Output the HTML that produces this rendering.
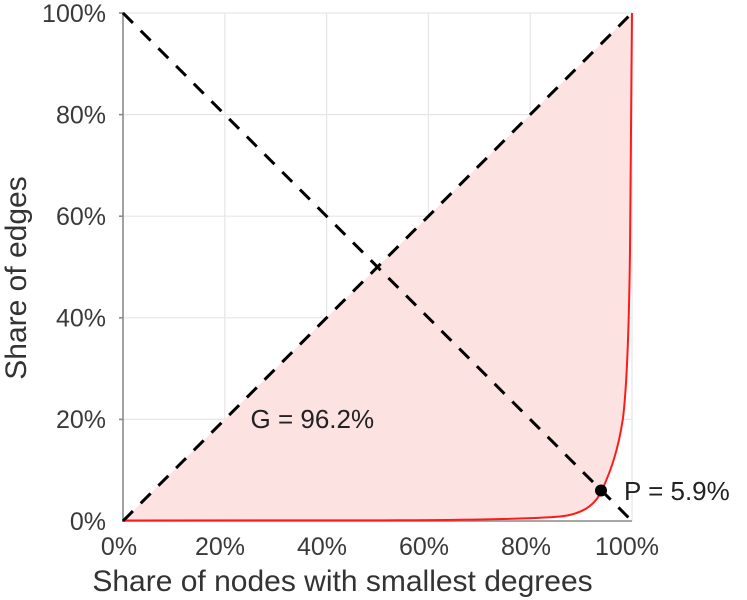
<!DOCTYPE html>
<html><head><meta charset="utf-8"><style>
html,body{margin:0;padding:0;background:#fff;}
svg{display:block;}
text{font-family:"Liberation Sans",Arial,sans-serif;}
</style></head><body>
<svg width="747" height="600" viewBox="0 0 747 600" xmlns="http://www.w3.org/2000/svg">
<g stroke="#e6e6e6" stroke-width="1.2">
<line x1="224.8" y1="13" x2="224.8" y2="521"/>
<line x1="326.6" y1="13" x2="326.6" y2="521"/>
<line x1="428.4" y1="13" x2="428.4" y2="521"/>
<line x1="530.2" y1="13" x2="530.2" y2="521"/>
<line x1="632" y1="13" x2="632" y2="521"/>
<line x1="123" y1="13" x2="632" y2="13"/>
<line x1="123" y1="114.6" x2="632" y2="114.6"/>
<line x1="123" y1="216.2" x2="632" y2="216.2"/>
<line x1="123" y1="317.8" x2="632" y2="317.8"/>
<line x1="123" y1="419.4" x2="632" y2="419.4"/>
</g>
<path d="M123,521 L400,520.5 C470,520 530,519 560,516.5 C585,514 597,503 603,488 C610,472 618,452 623,418 C627,385 629,330 630,250 L632,13 L123,521 Z" fill="#fde2e2" stroke="none"/>
<g stroke="#8a8a8a" stroke-width="1.6">
<line x1="123" y1="12" x2="123" y2="522"/>
<line x1="122" y1="521" x2="632" y2="521"/>
<line x1="119" y1="13" x2="123" y2="13"/>
<line x1="119" y1="114.6" x2="123" y2="114.6"/>
<line x1="119" y1="216.2" x2="123" y2="216.2"/>
<line x1="119" y1="317.8" x2="123" y2="317.8"/>
<line x1="119" y1="419.4" x2="123" y2="419.4"/>
</g>
<path d="M123,520.5 L400,520.3 C470,520 530,519 560,516.5 C585,514 597,503 603,488 C610,472 618,452 623,418 C627,385 629,330 630,250 L632,13" fill="none" stroke="#ff1a1a" stroke-width="2"/>
<g stroke="#000" stroke-width="3" stroke-dasharray="14,11" fill="none">
<line x1="123" y1="521" x2="632" y2="13"/>
<line x1="123" y1="13" x2="632" y2="521"/>
</g>
<circle cx="601" cy="490.5" r="6" fill="#000"/>
<g font-size="25" fill="#3a3a3a" text-anchor="end">
<text x="106" y="22">100%</text>
<text x="106" y="123.5">80%</text>
<text x="106" y="225">60%</text>
<text x="106" y="326.5">40%</text>
<text x="106" y="428">20%</text>
<text x="106" y="530">0%</text>
</g>
<g font-size="25" fill="#3a3a3a" text-anchor="middle">
<text x="119" y="555">0%</text>
<text x="220" y="555">20%</text>
<text x="322" y="555">40%</text>
<text x="424" y="555">60%</text>
<text x="526" y="555">80%</text>
<text x="627" y="555">100%</text>
</g>
<text x="342.5" y="591" font-size="30" fill="#333" text-anchor="middle">Share of nodes with smallest degrees</text>
<text transform="translate(26,278) rotate(-90)" font-size="30" fill="#333" text-anchor="middle">Share of edges</text>
<text x="250.5" y="428" font-size="26" fill="#222">G = 96.2%</text>
<text x="624" y="500" font-size="26" fill="#222">P = 5.9%</text>
</svg>
</body></html>
